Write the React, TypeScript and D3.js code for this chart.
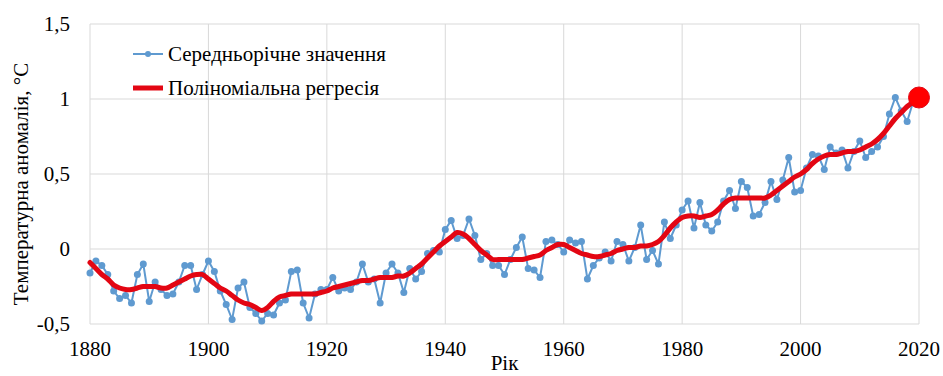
import React from 'react';
import * as d3 from 'd3';

// Annual mean temperature anomaly, 1880–2019
const startYear = 1880;
const annual = [
  -0.16, -0.08, -0.11, -0.17, -0.28, -0.33, -0.31, -0.36, -0.17, -0.10,
  -0.35, -0.22, -0.27, -0.31, -0.30, -0.22, -0.11, -0.11, -0.27, -0.17,
  -0.08, -0.15, -0.28, -0.37, -0.47, -0.26, -0.22, -0.39, -0.43, -0.48,
  -0.43, -0.44, -0.36, -0.34, -0.15, -0.14, -0.36, -0.46, -0.30, -0.27,
  -0.27, -0.19, -0.28, -0.26, -0.27, -0.22, -0.10, -0.22, -0.20, -0.36,
  -0.16, -0.10, -0.16, -0.29, -0.13, -0.20, -0.15, -0.03, -0.01, -0.02,
  0.13, 0.19, 0.07, 0.09, 0.20, 0.09, -0.07, -0.03, -0.11, -0.11,
  -0.17, -0.07, 0.01, 0.08, -0.13, -0.14, -0.19, 0.05, 0.06, 0.03,
  -0.02, 0.06, 0.04, 0.05, -0.20, -0.11, -0.06, -0.02, -0.08, 0.05,
  0.03, -0.08, 0.01, 0.16, -0.07, -0.01, -0.10, 0.18, 0.07, 0.16,
  0.26, 0.32, 0.14, 0.31, 0.16, 0.12, 0.18, 0.32, 0.39, 0.27,
  0.45, 0.41, 0.22, 0.23, 0.31, 0.45, 0.33, 0.46, 0.61, 0.38,
  0.39, 0.54, 0.63, 0.62, 0.53, 0.68, 0.64, 0.66, 0.54, 0.65,
  0.72, 0.61, 0.65, 0.68, 0.75, 0.90, 1.01, 0.92, 0.85, 0.98,
];

// Smoothed (polynomial regression) curve, 1880–2020
const regression = [
  -0.09, -0.13, -0.17, -0.20, -0.24, -0.26, -0.27, -0.27, -0.26, -0.25,
  -0.25, -0.25, -0.26, -0.26, -0.24, -0.22, -0.20, -0.18, -0.17, -0.17,
  -0.20, -0.23, -0.26, -0.28, -0.31, -0.34, -0.36, -0.37, -0.39, -0.41,
  -0.39, -0.35, -0.32, -0.31, -0.30, -0.30, -0.30, -0.30, -0.30, -0.29,
  -0.28, -0.26, -0.25, -0.24, -0.23, -0.22, -0.21, -0.21, -0.20, -0.19,
  -0.19, -0.19, -0.18, -0.18, -0.16, -0.13, -0.10, -0.06, -0.02, 0.02,
  0.05, 0.08, 0.11, 0.10, 0.07, 0.03, -0.01, -0.04, -0.07, -0.07,
  -0.07, -0.07, -0.07, -0.07, -0.06, -0.05, -0.04, -0.01, 0.01, 0.03,
  0.03, 0.01, -0.01, -0.03, -0.04, -0.05, -0.05, -0.04, -0.03, -0.01,
  0.00, 0.01, 0.01, 0.02, 0.02, 0.03, 0.05, 0.09, 0.14, 0.18,
  0.21, 0.22, 0.22, 0.21, 0.22, 0.23, 0.26, 0.30, 0.33, 0.34,
  0.34, 0.34, 0.34, 0.34, 0.34, 0.36, 0.39, 0.42, 0.45, 0.48,
  0.50, 0.53, 0.57, 0.60, 0.62, 0.63, 0.63, 0.64, 0.65, 0.65,
  0.66, 0.68, 0.70, 0.73, 0.77, 0.82, 0.87, 0.91, 0.95, 0.98,
  1.01,
];

const highlight = { year: 2020, value: 1.01 };

const xTicks = [1880, 1900, 1920, 1940, 1960, 1980, 2000, 2020];
const yTicks = [-0.5, 0, 0.5, 1, 1.5];

const legendLabels = ['Середньорічне значення', 'Поліноміальна регресія'];
const xTitle = 'Рік';
const yTitle = 'Температурна аномалія, °С';

const W = 943;
const H = 376;
const margin = { top: 24, right: 24, bottom: 52, left: 90 };
const blue = '#5f9ad0';
const red = '#e30613';
const ts = { fontFamily: 'Liberation Serif', fontSize: 21, fill: '#000' };

export default function App() {
  const x = d3.scaleLinear().domain([1880, 2020]).range([margin.left, W - margin.right]);
  const y = d3.scaleLinear().domain([-0.5, 1.5]).range([H - margin.bottom, margin.top]);

  const annualPts = annual.map((v, i) => [startYear + i, v] as [number, number]);
  const regPts = regression.map((v, i) => [startYear + i, v] as [number, number]);

  const blueLine = d3.line<[number, number]>().x(d => x(d[0])).y(d => y(d[1]));
  const redLine = d3.line<[number, number]>().x(d => x(d[0])).y(d => y(d[1])).curve(d3.curveCatmullRom);

  const legendX = 133;
  const legendY = [54, 88];

  return (
    <div style={{ position: 'fixed', left: 0, top: 0, fontFamily: 'Liberation Serif' }}>
      <svg width={W} height={H} fontFamily="Liberation Serif" style={{ display: 'block', background: '#fff' }}>
        {/* Grid */}
        <g>
          {yTicks.map(t => (
            <line key={'gy' + t} x1={x(1880)} x2={x(2020)} y1={y(t)} y2={y(t)} stroke="#d9d9d9" strokeWidth={1} />
          ))}
          {xTicks.map(t => (
            <line key={'gx' + t} x1={x(t)} x2={x(t)} y1={y(-0.5)} y2={y(1.5)} stroke="#d9d9d9" strokeWidth={1} />
          ))}
        </g>

        {/* Tick labels and titles */}
        {yTicks.map(t => (
          <text key={'ty' + t} style={ts} x={margin.left - 20} y={y(t)} dy="0.35em" textAnchor="end">
            {String(t).replace('.', ',')}
          </text>
        ))}
        {xTicks.map(t => (
          <text key={'tx' + t} style={ts} x={x(t)} y={356} textAnchor="middle">{t}</text>
        ))}
        <text style={ts} x={(x(1880) + x(2020)) / 2} y={370} textAnchor="middle">{xTitle}</text>
        <text style={ts} transform={`translate(28,${(y(-0.5) + y(1.5)) / 2 + 10}) rotate(-90)`} textAnchor="middle">{yTitle}</text>

        {/* Annual series */}
        <path d={blueLine(annualPts) || ''} fill="none" stroke={blue} strokeWidth={2} />
        {annualPts.map(d => (
          <circle key={d[0]} cx={x(d[0])} cy={y(d[1])} r={3.5} fill={blue} />
        ))}

        {/* Regression */}
        <path d={redLine(regPts) || ''} fill="none" stroke={red} strokeWidth={5} strokeLinejoin="round" strokeLinecap="round" />
        <circle cx={x(highlight.year)} cy={y(highlight.value)} r={10.5} fill="#ff0000" stroke={red} strokeWidth={1} />

        {/* Legend */}
        <line x1={legendX} x2={legendX + 30} y1={legendY[0]} y2={legendY[0]} stroke={blue} strokeWidth={2} />
        <circle cx={legendX + 15} cy={legendY[0]} r={3} fill={blue} />
        <text style={ts} x={legendX + 35} y={legendY[0]} dy="0.35em">{legendLabels[0]}</text>
        <line x1={legendX} x2={legendX + 30} y1={legendY[1]} y2={legendY[1]} stroke={red} strokeWidth={5} />
        <text style={ts} x={legendX + 35} y={legendY[1]} dy="0.35em">{legendLabels[1]}</text>
      </svg>
    </div>
  );
}
